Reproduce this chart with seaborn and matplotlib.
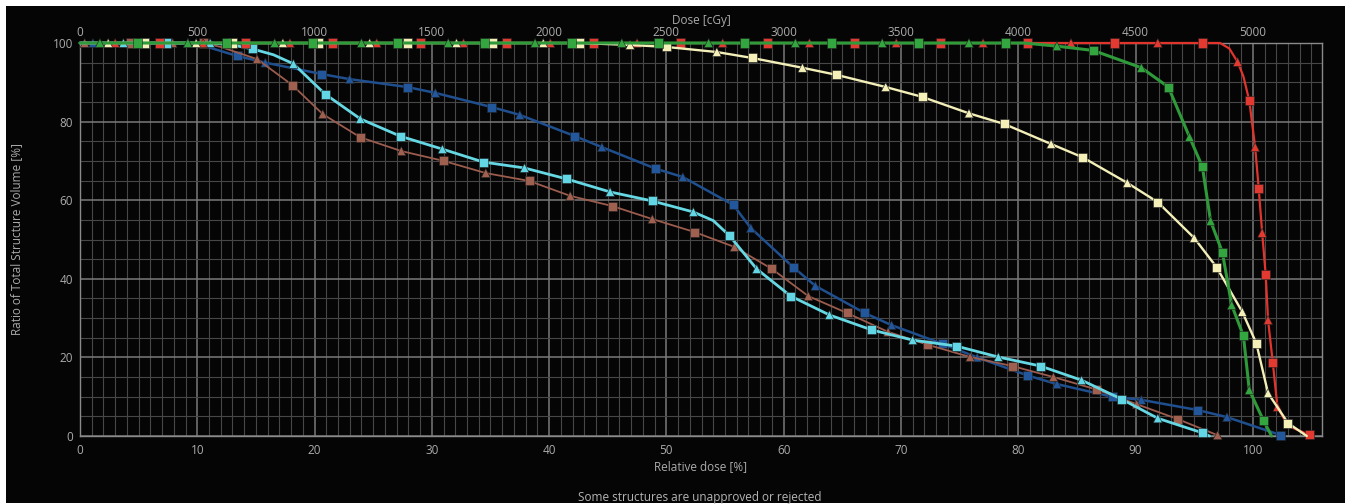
import matplotlib
matplotlib.use('Agg')
import matplotlib.pyplot as plt
from matplotlib.patches import Rectangle
from matplotlib.ticker import MultipleLocator, FixedLocator
import pandas as pd
import seaborn as sns

red_sq_x = [6.8, 14.1, 21.5, 29.0, 36.4, 43.8, 51.2, 58.6, 66.0, 73.4, 80.8, 88.2, 95.7, 99.7, 100.5, 101.1, 101.7, 104.8]
red_sq_y = [100, 100, 100, 100, 100, 100, 100, 100, 100, 100, 100, 100, 100, 85.3, 63.1, 41.0, 18.8, 0.3]
red_tri_x = [3.0, 10.5, 17.9, 25.3, 32.7, 40.1, 47.5, 54.8, 62.2, 69.6, 77.0, 84.5, 91.9, 98.7, 100.2, 100.8, 101.3, 102.1]
red_tri_y = [100, 100, 100, 100, 100, 100, 100, 100, 100, 100, 100, 100, 100, 95.2, 73.5, 51.7, 29.5, 7.4]
red_path_x = [0, 97.2, 98.0, 99.2, 103.0]
red_path_y = [100, 100, 98.6, 91.5, 2.6]

green_sq_x = [4.9, 12.5, 19.8, 27.1, 34.5, 41.9, 49.3, 56.7, 64.1, 71.5, 78.9, 86.4, 92.8, 95.7, 97.4, 99.2, 100.9]
green_sq_y = [100, 100, 100, 100, 100, 100, 100, 100, 100, 100, 100, 98.1, 88.8, 68.5, 46.8, 25.5, 4.0]
green_tri_x = [1.7, 9.2, 16.6, 24.0, 31.4, 38.8, 46.2, 53.6, 61.0, 68.4, 75.8, 83.3, 90.5, 94.6, 96.4, 98.2, 99.7]
green_tri_y = [100, 100, 100, 100, 100, 100, 100, 100, 100, 100, 100, 99.2, 93.7, 76.1, 54.7, 33.3, 11.7]
green_path_x = [0, 80.5, 101.6]
green_path_y = [100, 100, 0]

yellow_sq_x = [5.5, 13.0, 20.3, 27.9, 35.2, 42.6, 50.0, 57.3, 64.5, 71.8, 78.8, 85.5, 91.9, 96.9, 100.3, 103.0]
yellow_sq_y = [100, 100, 100, 100, 100, 100, 99.0, 96.2, 91.9, 86.3, 79.4, 70.9, 59.5, 43.0, 23.6, 3.3]
yellow_tri_x = [2.4, 9.9, 17.3, 24.7, 32.1, 39.5, 46.9, 54.3, 61.6, 68.7, 75.8, 82.8, 89.3, 95.0, 99.1, 101.3]
yellow_tri_y = [100, 100, 100, 100, 100, 100, 99.5, 97.7, 93.7, 88.8, 82.1, 74.3, 64.4, 50.4, 31.6, 10.9]
yellow_path_x = [0, 104.6]
yellow_path_y = [100, 0]

cyan_sq_x = [7.4, 14.7, 20.9, 27.3, 34.4, 41.5, 48.8, 55.4, 60.6, 67.5, 74.7, 81.9, 88.8, 95.7]
cyan_sq_y = [100, 98.5, 87.0, 76.3, 69.7, 65.4, 59.8, 50.9, 35.6, 27.0, 22.9, 17.8, 9.4, 0.8]
cyan_tri_x = [3.7, 11.1, 18.2, 23.9, 30.9, 37.9, 45.2, 52.3, 57.7, 63.9, 71.0, 78.3, 85.4, 91.9]
cyan_tri_y = [100, 100, 94.7, 80.7, 73.0, 68.2, 62.1, 57.0, 42.5, 30.8, 24.4, 20.1, 14.2, 4.5]
cyan_path_x = [0, 12.8, 16.5, 54.0, 96.3]
cyan_path_y = [100, 99.6, 97.0, 54.8, 0]

brown_sq_x = [4.3, 10.5, 18.1, 23.9, 31.0, 38.3, 45.4, 52.4, 59.0, 65.4, 72.3, 79.5, 86.7, 93.6]
brown_sq_y = [100, 100, 89.3, 76.0, 70.0, 64.9, 58.5, 51.9, 42.5, 31.3, 23.2, 17.8, 11.8, 4.3]
brown_tri_x = [0.4, 7.9, 15.1, 20.7, 27.4, 34.6, 41.8, 48.8, 55.8, 62.1, 68.9, 75.9, 83.0, 90.1, 97.0]
brown_tri_y = [100, 100, 95.9, 81.9, 72.5, 66.9, 61.1, 55.2, 48.1, 35.6, 26.5, 20.1, 15.0, 8.1, 0.2]
brown_path_x = [0, 12.0]
brown_path_y = [100, 99.0]

blue_sq_x = [5.5, 13.4, 20.6, 27.9, 35.1, 42.2, 49.1, 55.7, 60.8, 66.9, 73.5, 80.8, 88.0, 95.3, 102.4]
blue_sq_y = [100, 96.7, 92.1, 88.8, 83.7, 76.3, 68.0, 58.8, 43.0, 31.3, 23.5, 15.4, 10.0, 6.6, 0.2]
blue_tri_x = [1.1, 9.2, 15.8, 23.0, 30.3, 37.5, 44.5, 51.4, 57.2, 62.7, 69.2, 76.5, 83.3, 90.5, 97.8]
blue_tri_y = [100, 100, 95.0, 90.8, 87.3, 81.7, 73.5, 65.9, 52.9, 38.2, 28.2, 20.0, 13.2, 9.2, 4.8]
blue_path_x = [0, 10.2]
blue_path_y = [100, 99.6]

structures = {
    'blue': (blue_sq_x, blue_sq_y, blue_tri_x, blue_tri_y, blue_path_x, blue_path_y),
    'brown': (brown_sq_x, brown_sq_y, brown_tri_x, brown_tri_y, brown_path_x, brown_path_y),
    'cyan': (cyan_sq_x, cyan_sq_y, cyan_tri_x, cyan_tri_y, cyan_path_x, cyan_path_y),
    'red': (red_sq_x, red_sq_y, red_tri_x, red_tri_y, red_path_x, red_path_y),
    'yellow': (yellow_sq_x, yellow_sq_y, yellow_tri_x, yellow_tri_y, yellow_path_x, yellow_path_y),
    'green': (green_sq_x, green_sq_y, green_tri_x, green_tri_y, green_path_x, green_path_y),
}
line_colors = {'blue': '#1f4f8e', 'brown': '#9b5c4e', 'cyan': '#66d8e4',
               'red': '#e0342c', 'yellow': '#f3efb8', 'green': '#2e9a3a'}
marker_colors = {'blue': '#22579c', 'brown': '#a0604f', 'cyan': '#62d6e4',
                 'red': '#e23a30', 'yellow': '#f4f0b8', 'green': '#34a63f'}
line_widths = {'blue': 1.8, 'brown': 1.3, 'cyan': 2.0, 'red': 1.6, 'yellow': 1.7, 'green': 2.2}

rows = []
for name, (sx, sy, tx, ty, px, py) in structures.items():
    for kind, xs, ys in (('sq', sx, sy), ('tri', tx, ty), ('path', px, py)):
        for x, y in zip(xs, ys):
            rows.append((name, kind, x, y))
df = pd.DataFrame(rows, columns=['structure', 'kind', 'rel_dose', 'volume'])

sns.set_theme(style='dark')
plt.rcParams['font.family'] = ['Open Sans', 'DejaVu Sans']

fig = plt.figure(figsize=(13.49, 5.04), dpi=100)
fig.patch.set_facecolor('white')
fig.patches.append(Rectangle((6 / 1349, 1 / 504), 1339 / 1349, 497 / 504,
                             transform=fig.transFigure, facecolor='#050505',
                             edgecolor='none', zorder=-10))
ax = fig.add_axes([80 / 1349, 68 / 504, 1242 / 1349, 393 / 504])
ax.set_facecolor('#050505')

for i, name in enumerate(structures):
    d = df[df.structure == name].sort_values(['rel_dose', 'volume'], ascending=[True, False])
    sns.lineplot(data=d, x='rel_dose', y='volume', sort=False, estimator=None,
                 color=line_colors[name], lw=line_widths[name], ax=ax,
                 zorder=3 + i, clip_on=False)
    m = d[d.kind != 'path']
    sns.scatterplot(data=m, x='rel_dose', y='volume', style='kind',
                    markers={'sq': 's', 'tri': '^'}, s=42,
                    color=marker_colors[name], edgecolor='#202020', linewidth=0.4,
                    legend=False, ax=ax, zorder=3.5 + i, clip_on=False)

ax.set_xlim(0, 105.9)
ax.set_ylim(0, 100)
ax.xaxis.set_major_locator(MultipleLocator(10))
ax.xaxis.set_minor_locator(MultipleLocator(1))
ax.yaxis.set_major_locator(MultipleLocator(20))
ax.yaxis.set_minor_locator(MultipleLocator(5))
ax.grid(which='major', color='#7a7a7a', lw=1.1)
ax.grid(which='minor', color='#474747', lw=0.8)
ax.set_axisbelow(True)
for s in ax.spines.values():
    s.set_visible(True)
    s.set_color('#8a8a8a')
    s.set_linewidth(1.0)

label_col = '#ababab'
ax.tick_params(axis='y', which='major', length=4, width=0.8, color='#8a8a8a',
               labelcolor=label_col, labelsize=8.5, pad=1)
ax.tick_params(axis='x', which='major', length=2, width=0.8, color='#8a8a8a',
               labelcolor=label_col, labelsize=8.5, pad=4)
ax.tick_params(which='minor', length=0)

ax.set_xlabel('Relative dose [%]', color=label_col, fontsize=8.5)
ax.xaxis.set_label_coords(0.5, -0.062)
ax.set_ylabel('Ratio of Total Structure Volume [%]', color=label_col, fontsize=8.5)
ax.yaxis.set_label_coords(-0.046, 0.5)

top = ax.secondary_xaxis('top', functions=(lambda x: x * 50, lambda d: d / 50))
top.xaxis.set_major_locator(FixedLocator(range(0, 5001, 500)))
top.tick_params(length=0, labelcolor=label_col, labelsize=8.5, pad=3)
top.spines['top'].set_visible(False)
top.set_xlabel('Dose [cGy]', color=label_col, fontsize=8.5, labelpad=1)

fig.text(700 / 1349, 1 - 498 / 504, 'Some structures are unapproved or rejected',
         ha='center', va='center', color='#b5b5b5', fontsize=8.5)

fig.savefig('out.png', dpi=100, facecolor=fig.get_facecolor())
